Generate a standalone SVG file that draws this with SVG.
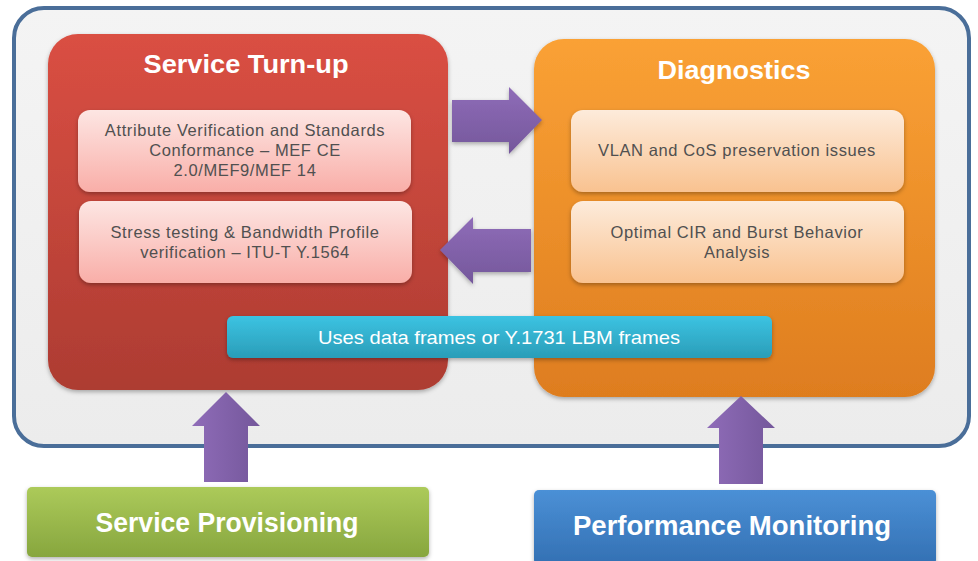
<svg xmlns="http://www.w3.org/2000/svg" width="978" height="561" viewBox="0 0 978 561">
<defs>
<linearGradient id="gFrame" x1="0" y1="0" x2="0" y2="1"><stop offset="0" stop-color="#f4f4f4"/><stop offset="1" stop-color="#ececec"/></linearGradient>
<linearGradient id="gRed" x1="0" y1="0" x2="0" y2="1"><stop offset="0" stop-color="#da4f43"/><stop offset="1" stop-color="#ad3c32"/></linearGradient>
<linearGradient id="gOrange" x1="0" y1="0" x2="0" y2="1"><stop offset="0" stop-color="#faa135"/><stop offset="1" stop-color="#de7d1f"/></linearGradient>
<linearGradient id="gPink" x1="0" y1="0" x2="0" y2="1"><stop offset="0" stop-color="#fde6e3"/><stop offset="1" stop-color="#f9aea8"/></linearGradient>
<linearGradient id="gPeach" x1="0" y1="0" x2="0" y2="1"><stop offset="0" stop-color="#fdebdb"/><stop offset="1" stop-color="#f9c290"/></linearGradient>
<linearGradient id="gCyan" x1="0" y1="0" x2="0" y2="1"><stop offset="0" stop-color="#3cc3e2"/><stop offset="1" stop-color="#2a9db8"/></linearGradient>
<linearGradient id="gGreen" x1="0" y1="0" x2="0" y2="1"><stop offset="0" stop-color="#acca5a"/><stop offset="1" stop-color="#87a63e"/></linearGradient>
<linearGradient id="gBlue" x1="0" y1="0" x2="0" y2="1"><stop offset="0" stop-color="#4b90d6"/><stop offset="1" stop-color="#3370b3"/></linearGradient>
<linearGradient id="gPurpleH" x1="0" y1="0" x2="0" y2="1"><stop offset="0" stop-color="#8f6cb8"/><stop offset="1" stop-color="#74579b"/></linearGradient>
<linearGradient id="gPurpleV" x1="0" y1="0" x2="1" y2="0"><stop offset="0" stop-color="#8f6cb8"/><stop offset="1" stop-color="#74579b"/></linearGradient>
<filter id="sh" x="-10%" y="-10%" width="120%" height="130%"><feDropShadow dx="0" dy="2" stdDeviation="2" flood-color="#000" flood-opacity="0.3"/></filter>
<style>
.body{font-family:"Liberation Sans",Arial,sans-serif;font-size:16.5px;letter-spacing:0.6px;fill:#505050;text-anchor:middle}
.title{font-family:"Liberation Sans",Arial,sans-serif;font-weight:bold;font-size:26px;fill:#ffffff;text-anchor:middle}
.label{font-family:"Liberation Sans",Arial,sans-serif;font-weight:bold;font-size:27px;fill:#ffffff;text-anchor:middle}
.bar{font-family:"Liberation Sans",Arial,sans-serif;font-size:19px;fill:#ffffff;text-anchor:middle}
</style>
</defs>
<g id="frame">
<rect x="14" y="8" width="955" height="438" rx="30" fill="url(#gFrame)" stroke="#4a6e99" stroke-width="4"/>
</g>
<g id="service-turn-up">
<rect x="48" y="34" width="400" height="356" rx="30" fill="url(#gRed)" filter="url(#sh)"/>
<text class="title" x="246" y="73" textLength="205" lengthAdjust="spacingAndGlyphs">Service Turn-up</text>
</g>
<g id="diagnostics">
<rect x="534" y="39" width="401" height="358" rx="30" fill="url(#gOrange)" filter="url(#sh)"/>
<text class="title" x="734" y="79" textLength="153" lengthAdjust="spacingAndGlyphs">Diagnostics</text>
</g>
<g id="attribute-verification">
<rect x="78" y="110" width="333" height="82" rx="12" fill="url(#gPink)" filter="url(#sh)"/>
<text class="body" x="245" y="136">Attribute Verification and Standards</text>
<text class="body" x="245" y="156">Conformance – MEF CE</text>
<text class="body" x="245" y="176">2.0/MEF9/MEF 14</text>
</g>
<g id="stress-testing">
<rect x="79" y="201" width="333" height="82" rx="12" fill="url(#gPink)" filter="url(#sh)"/>
<text class="body" x="245" y="238">Stress testing &amp; Bandwidth Profile</text>
<text class="body" x="245" y="258">verification – ITU-T Y.1564</text>
</g>
<g id="vlan-cos">
<rect x="571" y="110" width="333" height="82" rx="12" fill="url(#gPeach)" filter="url(#sh)"/>
<text class="body" x="737" y="156">VLAN and CoS preservation issues</text>
</g>
<g id="optimal-cir">
<rect x="571" y="201" width="333" height="82" rx="12" fill="url(#gPeach)" filter="url(#sh)"/>
<text class="body" x="737" y="238">Optimal CIR and Burst Behavior</text>
<text class="body" x="737" y="258">Analysis</text>
</g>
<g id="data-frames">
<rect x="227" y="316" width="545" height="42" rx="6" fill="url(#gCyan)" filter="url(#sh)"/>
<text class="bar" x="499" y="344" textLength="362" lengthAdjust="spacingAndGlyphs">Uses data frames or Y.1731 LBM frames</text>
</g>
<g id="service-provisioning">
<rect x="27" y="487" width="402" height="70" rx="5" fill="url(#gGreen)" filter="url(#sh)"/>
<text class="label" x="227" y="532" textLength="263" lengthAdjust="spacingAndGlyphs">Service Provisioning</text>
</g>
<g id="performance-monitoring">
<rect x="534" y="490" width="402" height="75" rx="5" fill="url(#gBlue)" filter="url(#sh)"/>
<text class="label" x="732" y="535" textLength="318" lengthAdjust="spacingAndGlyphs">Performance Monitoring</text>
</g>
<g id="connectors">
<polygon points="452,100 509,100 509,87 542,120 509,154 509,142 452,142" fill="url(#gPurpleH)" filter="url(#sh)"/>
<polygon points="531,229 473,229 473,217 440,250 473,284 473,272 531,272" fill="url(#gPurpleH)" filter="url(#sh)"/>
<polygon points="204,482 204,426 192,426 226,392 260,426 248,426 248,482" fill="url(#gPurpleV)"/>
<polygon points="719,484 719,428 707,428 741,396 775,428 763,428 763,484" fill="url(#gPurpleV)"/>
</g>
</svg>
